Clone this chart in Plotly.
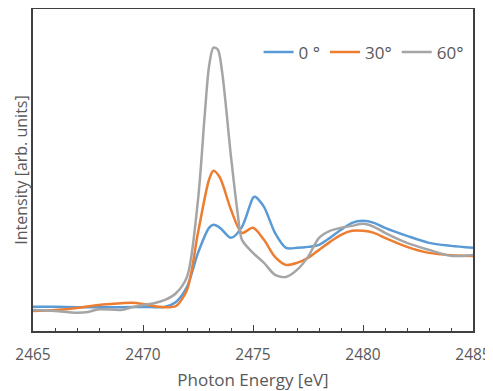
import plotly.graph_objects as go

energy_0 = [2465, 2466, 2467, 2468, 2469, 2470, 2471, 2471.5, 2472, 2472.5, 2473, 2473.2, 2473.5, 2474, 2474.5,
            2475, 2475.1, 2475.5, 2476, 2476.5, 2477, 2477.5, 2478, 2478.5, 2479, 2479.5, 2480, 2480.5,
            2481, 2482, 2483, 2484, 2485]
int_0 = [0.243, 0.243, 0.238, 0.238, 0.238, 0.240, 0.243, 0.29, 0.44, 0.78, 1.03, 1.06, 1.03, 0.93, 1.04,
         1.33, 1.34, 1.24, 0.98, 0.83, 0.83, 0.84, 0.86, 0.93, 1.01, 1.08, 1.10, 1.08,
         1.03, 0.95, 0.88, 0.85, 0.83]

energy_30 = [2465, 2466, 2467, 2468, 2469, 2469.5, 2470, 2470.5, 2471, 2471.5, 2472, 2472.5, 2473, 2473.2,
             2473.5, 2474, 2474.5, 2475, 2475.5, 2476, 2476.5, 2477, 2477.5, 2478, 2478.5, 2479, 2479.5,
             2480, 2480.5, 2481, 2482, 2483, 2484, 2485]
int_30 = [0.20, 0.21, 0.23, 0.26, 0.277, 0.283, 0.27, 0.25, 0.237, 0.25, 0.41, 0.98, 1.51, 1.60,
          1.53, 1.21, 0.98, 1.03, 0.91, 0.74, 0.66, 0.68, 0.73, 0.81, 0.89, 0.96, 1.0,
          1.0, 0.98, 0.93, 0.84, 0.78, 0.757, 0.75]

energy_60 = [2465, 2466, 2467, 2467.5, 2468, 2469, 2469.5, 2470, 2470.5, 2471, 2471.5, 2472, 2472.5, 2472.8,
             2473, 2473.2, 2473.4, 2473.6, 2474, 2474.3, 2474.5, 2475, 2475.5, 2476, 2476.5, 2477, 2477.5,
             2478, 2478.5, 2479, 2479.5, 2480, 2480.5, 2481, 2482, 2483, 2484, 2485]
int_60 = [0.21, 0.20, 0.183, 0.19, 0.217, 0.21, 0.237, 0.26, 0.277, 0.31, 0.377, 0.54, 1.31, 2.14,
          2.64, 2.83, 2.81, 2.58, 1.74, 1.18, 0.91, 0.78, 0.68, 0.56, 0.54, 0.61, 0.74,
          0.93, 1.0, 1.03, 1.05, 1.07, 1.04, 0.98, 0.88, 0.81, 0.75, 0.76]

series = [
    ("0 °", energy_0, int_0, "#5B9BD5"),
    ("30°", energy_30, int_30, "#ED7D31"),
    ("60°", energy_60, int_60, "#A5A5A5"),
]

x_ticks = [2465, 2470, 2475, 2480, 2485]

fig = go.Figure()
for name, x, y, c in series:
    fig.add_trace(go.Scatter(x=x, y=y, name=name, mode="lines",
                             line=dict(color=c, width=2.5, shape="spline", smoothing=0.8)))

axis_color = "#404040"
font_color = "#595959"

# the page body has an 8px margin, so the figure is sized to fit the 493x391 window
fig.update_layout(
    width=485, height=383,
    margin=dict(l=25, r=20, t=1, b=60),
    plot_bgcolor="white", paper_bgcolor="white",
    font=dict(family="Open Sans", size=16, color=font_color),
    showlegend=True,
    legend=dict(orientation="h", x=0.99, xanchor="right", y=0.865, yanchor="middle",
                font=dict(size=17, color=font_color), bgcolor="rgba(0,0,0,0)",
                itemwidth=30, tracegroupgap=0),
    xaxis=dict(range=[2465, 2485], tickvals=x_ticks, ticktext=[str(v) for v in x_ticks],
               ticks="inside", ticklen=6, tickwidth=1.2, tickcolor=axis_color,
               minor=dict(dtick=1, ticks="inside", ticklen=3.5, tickwidth=1.2, tickcolor=axis_color),
               showline=True, linecolor=axis_color, linewidth=1.5, mirror=True,
               showgrid=False, zeroline=False, automargin=False, ticklabeloverflow="allow",
               ticklabelstandoff=9,
               tickfont=dict(size=15.5, color=font_color),
               title=dict(text="Photon Energy [eV]", font=dict(size=17, color=font_color), standoff=11)),
    yaxis=dict(range=[0, 3.215], showticklabels=False, ticks="",
               showline=True, linecolor=axis_color, linewidth=1.5, mirror=True,
               showgrid=False, zeroline=False, automargin=False,
               title=dict(text="Intensity [arb. units]", font=dict(size=16, color=font_color), standoff=0)),
)

fig.write_html("out.html",
               post_script="document.documentElement.style.overflow='hidden';"
                           "document.body.style.overflow='hidden';")
